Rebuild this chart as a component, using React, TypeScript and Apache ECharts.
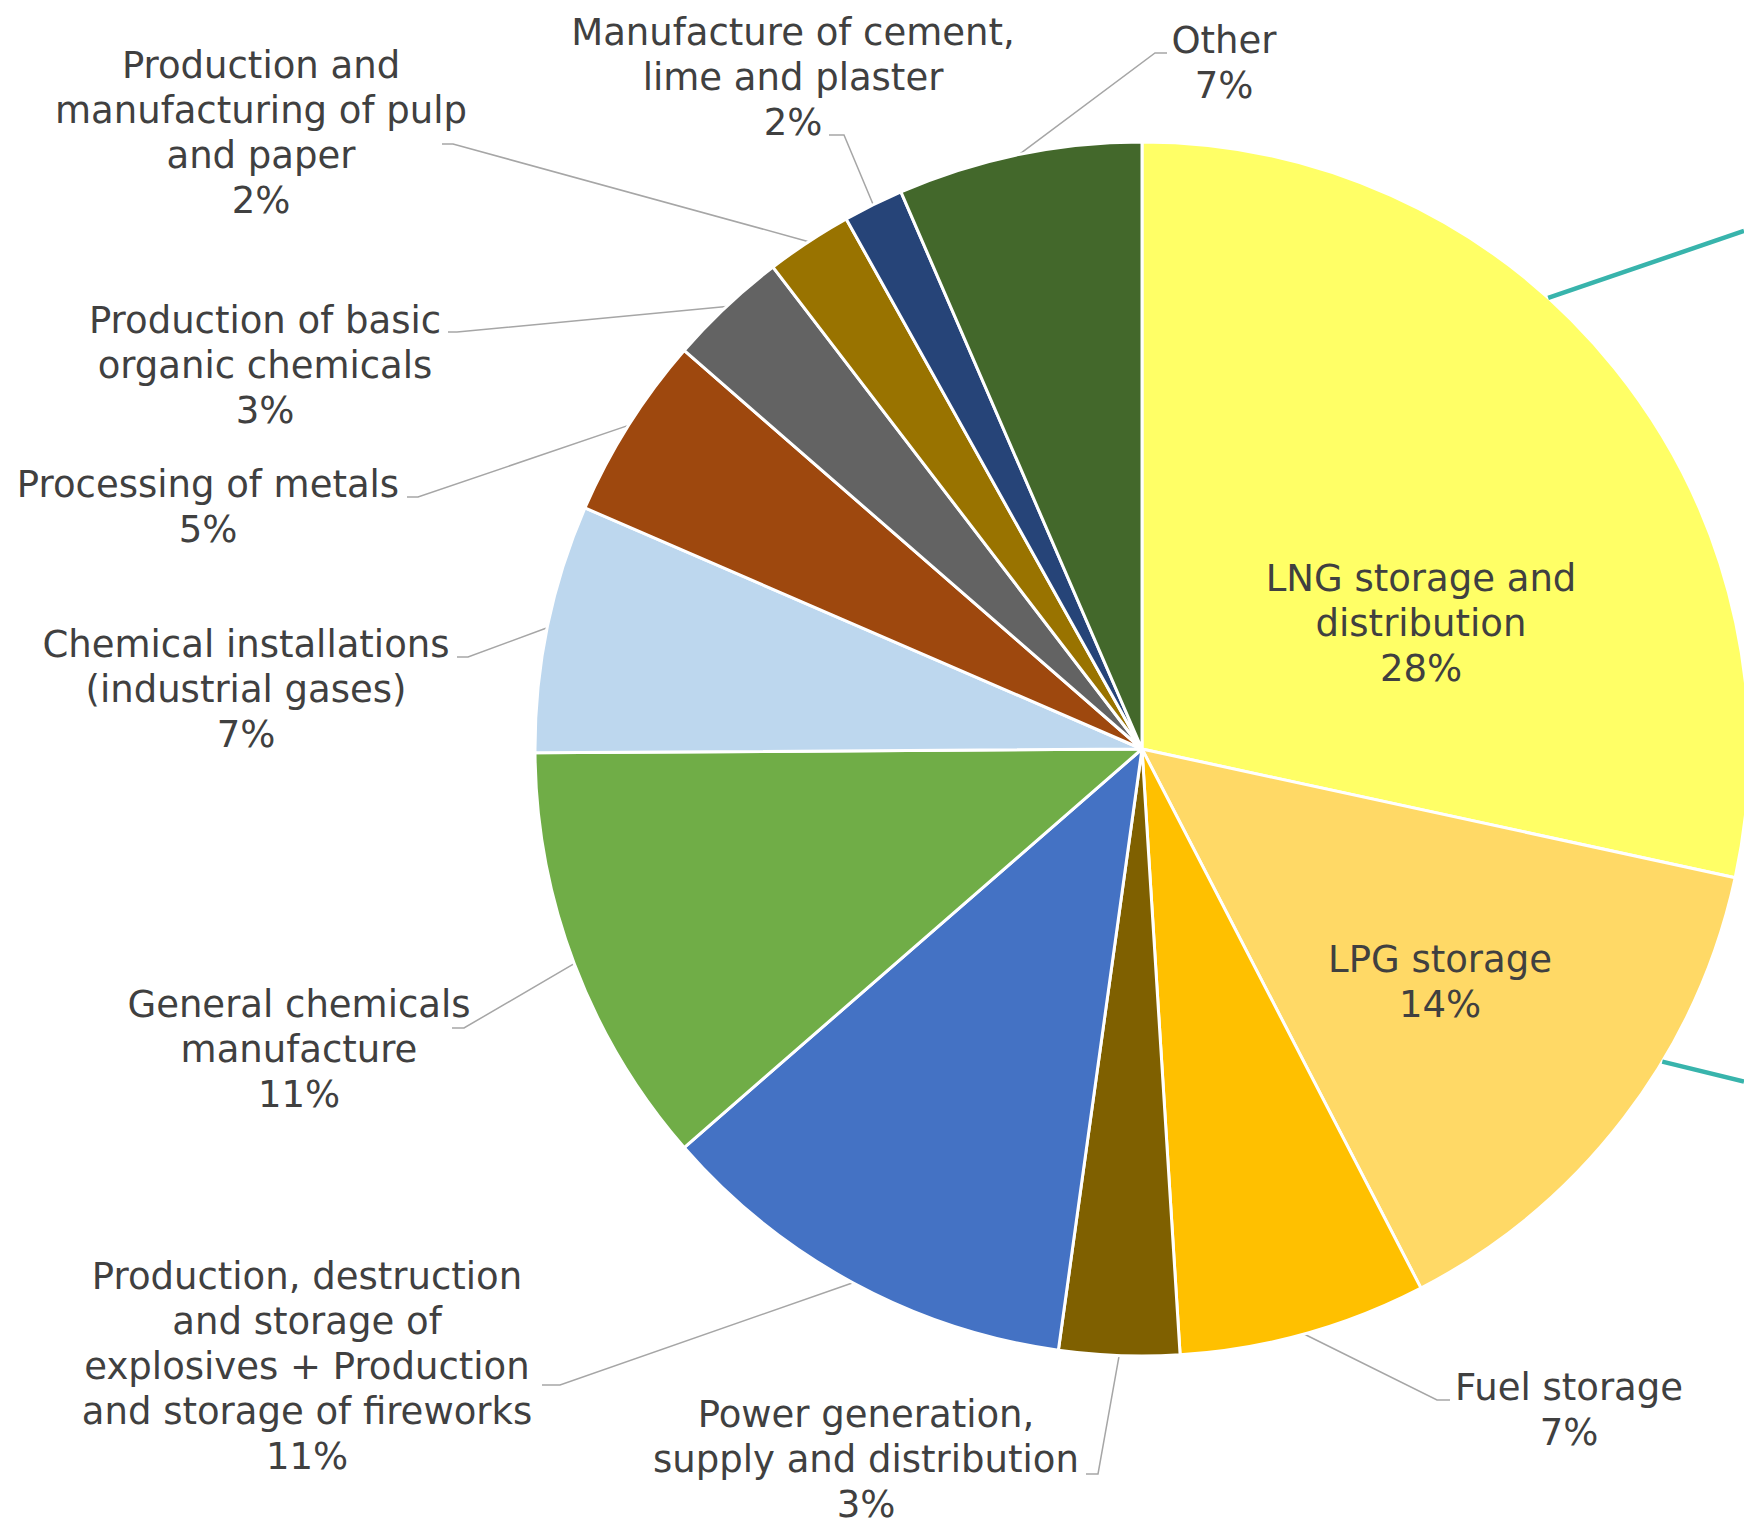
import React, { useEffect, useRef } from "react";
import * as echarts from "echarts";

const categories = [
  "LNG storage and\ndistribution",
  "LPG storage",
  "Fuel storage",
  "Power generation,\nsupply and distribution",
  "Production, destruction\nand storage of\nexplosives + Production\nand storage of fireworks",
  "General chemicals\nmanufacture",
  "Chemical installations\n(industrial gases)",
  "Processing of metals",
  "Production of basic\norganic chemicals",
  "Production and\nmanufacturing of pulp\nand paper",
  "Manufacture of cement,\nlime and plaster",
  "Other",
];

const values = [28.4, 14.0, 6.6, 3.2, 11.4, 11.3, 6.6, 4.9, 3.2, 2.3, 1.6, 6.5];

const colors = [
  "#FFFF66", "#FFD966", "#FFC000", "#7F6000", "#4472C4", "#70AD47",
  "#BDD7EE", "#9E480E", "#636363", "#997300", "#264478", "#43682B",
];

const insideLabel = [true, true, false, false, false, false, false, false, false, false, false, false];

// label block centres [x, y]
const labelCenters = [
  [1421, 623], [1440, 982], [1569, 1410], [866, 1459], [307, 1366], [299, 1049],
  [246, 689], [208, 507], [265, 365], [261, 133], [793, 77], [1224, 63],
];
// leader attach [attachX, attachY, hookX]
const labelAttach: (number[] | null)[] = [
  null, null, [1450, 1400, 1437], [1086, 1474, 1098], [542, 1385, 560], [452, 1028, 464],
  [457, 657, 468], [407, 497, 418], [448, 332, 457], [442, 144, 453], [829, 135, 844], [1167, 53, 1155],
];

const CX = 1142;
const CY = 749;
const R = 607;
const W = 1744;
const H = 1527;

const connectorAngles = [42, 121];
const connectorSlopes = [-0.342, 0.244];

export default function App() {
  const ref = useRef<HTMLDivElement>(null);
  useEffect(() => {
    document.body.style.margin = "0";
    document.body.style.overflow = "hidden";
    if (!ref.current) return;
    const chart = echarts.init(ref.current, null, { renderer: "svg" });
    const total = values.reduce((a, b) => a + b, 0);
    const midAngles: number[] = [];
    let acc = 0;
    values.forEach((v) => {
      const span = (v / total) * 360;
      midAngles.push(acc + span / 2);
      acc += span;
    });
    const edgePoint = (deg: number) => {
      const a = (deg * Math.PI) / 180;
      return [CX + R * Math.sin(a), CY - R * Math.cos(a)];
    };
    const connectors = connectorAngles.map((ang, i) => {
      const s = edgePoint(ang);
      const ex = W;
      const ey = s[1] + connectorSlopes[i] * (ex - s[0]);
      return {
        type: "line",
        z: 100,
        shape: { x1: s[0], y1: s[1], x2: ex, y2: ey },
        style: { stroke: "#38B4AC", lineWidth: 4.5 },
      };
    });
    const option: any = {
      animation: false,
      backgroundColor: "#FFFFFF",
      graphic: connectors,
      series: [
        {
          type: "pie",
          center: [CX, CY],
          radius: R,
          startAngle: 90,
          clockwise: true,
          avoidLabelOverlap: false,
          itemStyle: { borderColor: "#FFFFFF", borderWidth: 3 },
          label: {
            show: true,
            fontFamily: "DejaVu Sans, Verdana, sans-serif",
            fontSize: 37,
            lineHeight: 45,
            color: "#404040",
            align: "center",
            formatter: (p: any) => `${p.name}\n${Math.round((p.value / total) * 100)}%`,
          },
          labelLine: {
            show: true,
            smooth: false,
            lineStyle: { color: "#A6A6A6", width: 1.5 },
          },
          labelLayout: (params: any) => {
            const i = params.dataIndex;
            const c = labelCenters[i];
            const res: any = { x: c[0], y: c[1], align: "center", verticalAlign: "middle" };
            const at = labelAttach[i];
            if (at) {
              res.labelLinePoints = [edgePoint(midAngles[i]), [at[2], at[1]], [at[0], at[1]]];
            }
            return res;
          },
          data: categories.map((name, i) => ({
            name,
            value: values[i],
            itemStyle: { color: colors[i] },
            label: { position: insideLabel[i] ? "inside" : "outside" },
            labelLine: { show: !insideLabel[i] },
          })),
        },
      ],
    };
    chart.setOption(option);
    return () => chart.dispose();
  }, []);
  return <div ref={ref} style={{ width: W, height: H }} />;
}
